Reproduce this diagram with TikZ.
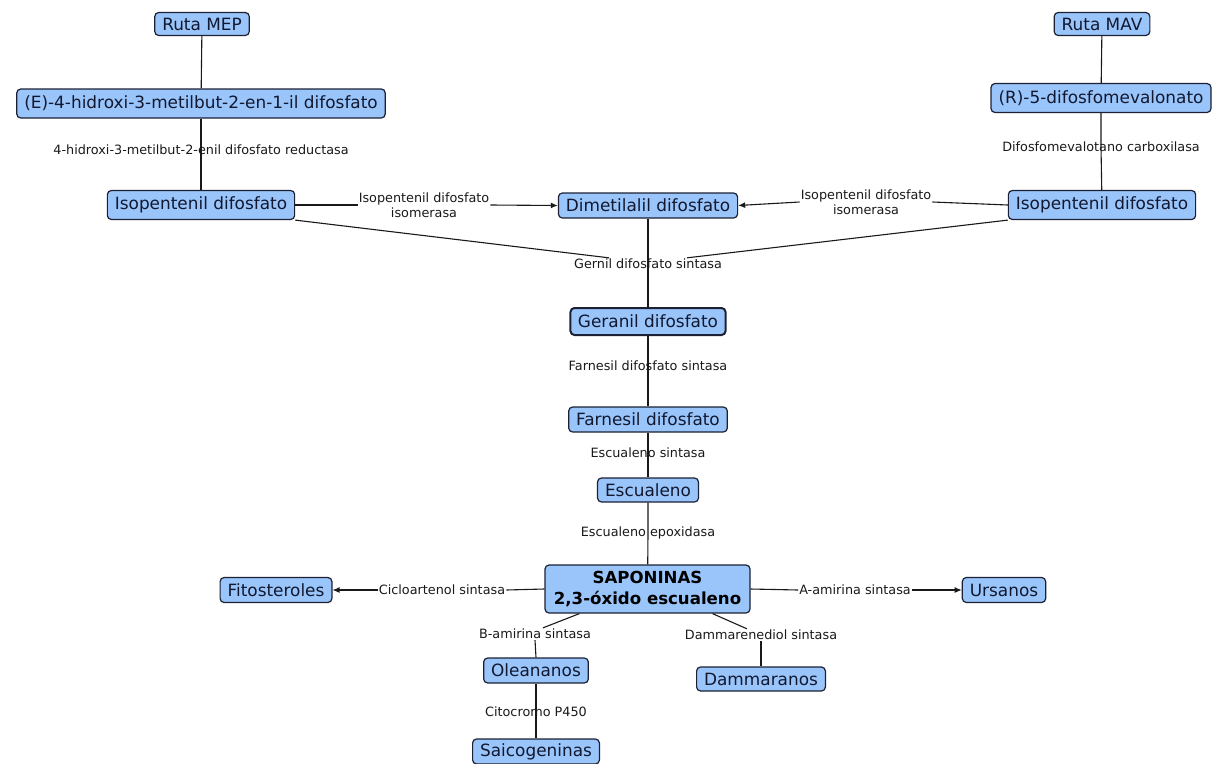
\documentclass[tikz,border=0pt]{standalone}
\usepackage{fontspec}
\setmainfont{DejaVu Sans}
\usetikzlibrary{calc,arrows.meta}
\definecolor{boxfill}{RGB}{153,197,250}
\definecolor{boxline}{RGB}{28,32,52}
\definecolor{boxtext}{RGB}{18,24,48}
\definecolor{labtext}{RGB}{25,25,25}
\begin{document}
\begin{tikzpicture}[x=1pt,y=-1pt,
  concept/.style={draw=boxline, fill=boxfill, rounded corners=4pt, line width=1.2pt, text=boxtext,
    font=\fontsize{16.9}{19}\selectfont, inner xsep=7.5pt, inner ysep=2pt, minimum height=25pt},
  big/.style={minimum height=29pt},
  lab/.style={font=\fontsize{12.8}{15}\selectfont, text=labtext, inner sep=1pt, align=center},
  conn/.style={draw=black!90, line width=1.1pt},
  arr/.style={conn, -{Latex[length=7pt,width=6pt]}}
]
\useasboundingbox (0,0) rectangle (1214,763);

% left MEP branch
\node[concept, minimum height=23pt] (mep) at (202,24) {Ruta MEP};
\node[concept, big] (hmb) at (201,103.5) {(E)-4-hidroxi-3-metilbut-2-en-1-il difosfato};
\node[lab] (l1) at (201,150) {4-hidroxi-3-metilbut-2-enil difosfato reductasa};
\node[concept, big] (ipp1) at (201,205) {Isopentenil difosfato};

% right MAV branch
\node[concept, minimum height=23pt] (mav) at (1102,24) {Ruta MAV};
\node[concept, big] (dmv) at (1101,98) {(R)-5-difosfomevalonato};
\node[lab] (l2) at (1101,147) {Difosfomevalotano carboxilasa};
\node[concept, big] (ipp2) at (1102,205) {Isopentenil difosfato};

% centre column
\node[concept] (dma) at (648,205.5) {Dimetilalil difosfato};
\node[lab] (i1) at (424,205) {Isopentenil difosfato\\isomerasa};
\node[lab] (i2) at (866,202) {Isopentenil difosfato\\isomerasa};
\node[lab] (gds) at (648,264) {Gernil difosfato sintasa};
\node[concept, line width=2pt, minimum height=27pt] (gpp) at (648,321.5) {Geranil difosfato};
\node[lab] (fds) at (648,366) {Farnesil difosfato sintasa};
\node[concept] (fpp) at (648,419.5) {Farnesil difosfato};
\node[lab] (ess) at (648,453) {Escualeno sintasa};
\node[concept, minimum height=24pt] (esc) at (648,490) {Escualeno};
\node[lab] (epo) at (648,533) {Escualeno epoxidasa};
\node[concept, align=center, font=\fontsize{16.6}{20.5}\selectfont\bfseries, text=black,
      minimum width=205pt, minimum height=48pt] (sap) at (647.5,589) {SAPONINAS\\2,3-óxido escualeno};

% bottom branches
\node[concept] (fit) at (276,590) {Fitosteroles};
\node[lab] (cic) at (442,590) {Cicloartenol sintasa};
\node[concept] (urs) at (1004,590) {Ursanos};
\node[lab] (aam) at (855,590) {A-amirina sintasa};
\node[lab] (bam) at (535,634) {B-amirina sintasa};
\node[concept] (ole) at (536,670.5) {Oleananos};
\node[lab] (cyt) at (536,712) {Citocromo P450};
\node[concept] (sai) at (536,751.5) {Saicogeninas};
\node[lab] (dsl) at (761,635) {Dammarenediol sintasa};
\node[concept, minimum height=24pt] (dmr) at (761,679) {Dammaranos};

% connectors
\draw[conn] (mep) -- (hmb);
\draw[conn] (hmb) -- (l1.center) -- (ipp1);
\draw[conn] (mav) -- (dmv);
\draw[conn] (dmv) -- (l2.center) -- (ipp2);
\draw[conn] (ipp1.east) -- (i1.west);
\draw[arr] (i1.east) -- (dma.west);
\draw[conn] (ipp2.west) -- (i2.east);
\draw[arr] (i2.west) -- (dma.east);
\draw[conn] (ipp1.south east) -- (gds.171);
\draw[conn] (ipp2.south west) -- (gds.9);
\draw[conn] (dma) -- (gds.center) -- (gpp);
\draw[conn] (gpp) -- (fds.center) -- (fpp);
\draw[conn] (fpp) -- (ess.center) -- (esc);
\draw[conn] (esc) -- (epo.center) -- (sap);
\draw[conn] (sap.west) -- (cic.east);
\draw[arr] (cic.west) -- (fit.east);
\draw[conn] (sap.east) -- (aam.west);
\draw[arr] (aam.east) -- (urs.west);
\draw[conn] ($(sap.south west)+(35,0)$) -- ($(bam.north)+(8,0)$);
\draw[conn] (bam.south) -- (ole.north);
\draw[conn] (ole) -- (cyt.center) -- (sai);
\draw[conn] ($(sap.south)+(65,0)$) -- ($(dsl.north)+(-14,0)$);
\draw[conn] (dsl.south) -- (dmr.north);
\end{tikzpicture}
\end{document}
